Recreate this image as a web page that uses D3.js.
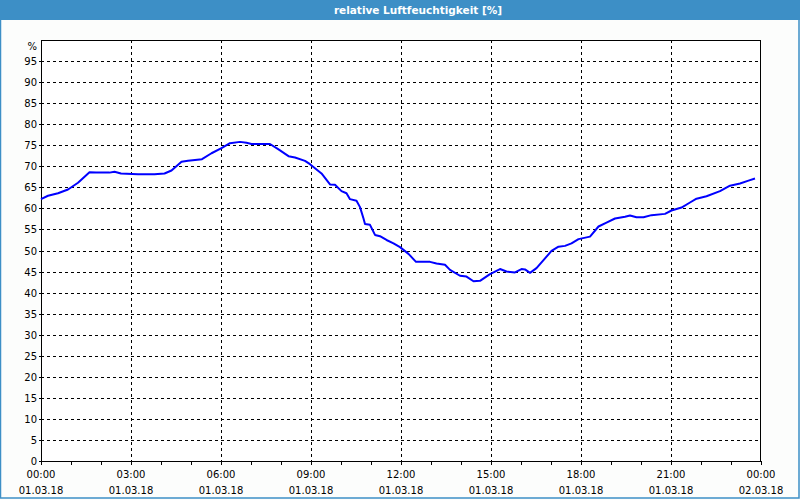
<!DOCTYPE html>
<html>
<head>
<meta charset="utf-8">
<script src="https://cdn.jsdelivr.net/npm/d3@7"></script>
<style>
  html, body { margin: 0; padding: 0; background: #fcfdfc; }
  svg { display: block; }
</style>
</head>
<body>
<svg id="chart" width="800" height="500"></svg>
<script>
// minutes since 01.03.18 00:00 and relative humidity [%]
const minutes = [0, 14, 34, 54, 74, 97, 110, 137, 147, 160, 194, 227, 247, 261, 281, 294,
  322, 341, 361, 378, 398, 411, 421, 458, 475, 495, 508, 528, 538, 561, 578, 588,
  601, 611, 618, 631, 638, 645, 648, 658, 668, 678, 691, 705, 718, 735, 750, 778,
  791, 808, 818, 838, 851, 865, 878, 898, 918, 931, 948, 961, 968, 978, 991, 1005,
  1021, 1035, 1048, 1061, 1075, 1098, 1115, 1131, 1148, 1168, 1178, 1191, 1205, 1221,
  1248, 1261, 1281, 1298, 1311, 1331, 1358, 1378, 1398, 1415, 1428];
const humidity = [62.2, 63.0, 63.6, 64.5, 66.1, 68.6, 68.5, 68.5, 68.7, 68.3, 68.1, 68.1, 68.3, 69.0, 71.1, 71.3,
  71.7, 73.1, 74.3, 75.5, 75.8, 75.6, 75.3, 75.3, 74.0, 72.4, 72.1, 71.3, 70.5, 68.3, 65.7, 65.6,
  64.1, 63.6, 62.2, 61.8, 60.3, 57.6, 56.3, 56.1, 53.7, 53.4, 52.5, 51.7, 50.8, 49.2, 47.3, 47.3,
  46.9, 46.6, 45.4, 44.0, 43.8, 42.7, 42.8, 44.4, 45.6, 45.0, 44.8, 45.6, 45.5, 44.7, 45.8, 47.7,
  49.9, 50.9, 51.1, 51.7, 52.7, 53.3, 55.7, 56.6, 57.6, 58.0, 58.3, 57.9, 57.9, 58.4,
  58.7, 59.5, 60.2, 61.4, 62.3, 62.9, 64.1, 65.4, 65.9, 66.6, 67.1];

const title = 'relative Luftfeuchtigkeit [%]';
const yTicks = d3.range(0, 100, 5);          // 0 … 95
const xTickHours = d3.range(0, 25, 3);       // labelled every 3 h
const start = new Date(2018, 2, 1, 0, 0);
const end = new Date(2018, 2, 2, 0, 0);

const data = minutes.map((m, i) => ({ t: d3.timeMinute.offset(start, m), v: humidity[i] }));

const W = 800, H = 500;
const m = { l: 41, r: 761, t: 40, b: 461 };
const font = "'DejaVu Sans', Verdana, sans-serif";
const svg = d3.select('#chart');

// window frame + title bar
svg.append('rect').attr('x', 0.5).attr('y', 0.5).attr('width', W - 1.5).attr('height', H - 2.5)
  .attr('fill', '#fcfdfc').attr('stroke', '#3d8fc6').attr('stroke-width', 1.5);
svg.append('rect').attr('x', 0).attr('y', 0).attr('width', W).attr('height', 20).attr('fill', '#3d8fc6');
svg.append('text').attr('x', 418).attr('y', 14).attr('text-anchor', 'middle')
  .attr('font-family', font).attr('font-size', 10.5).attr('font-weight', 'bold')
  .attr('fill', '#fff').text(title);

const x = d3.scaleTime().domain([start, end]).range([m.l, m.r]);
const y = d3.scaleLinear().domain([0, 100]).range([m.b, m.t]);

// plot area
svg.append('rect').attr('x', m.l).attr('y', m.t).attr('width', m.r - m.l).attr('height', m.b - m.t)
  .attr('fill', '#fff');

const g = svg.append('g').attr('shape-rendering', 'crispEdges');

// horizontal grid
yTicks.filter(v => v > 0).forEach(v => {
  g.append('line').attr('x1', m.l).attr('x2', m.r).attr('y1', Math.round(y(v)) + .5).attr('y2', Math.round(y(v)) + .5)
    .attr('stroke', '#000').attr('stroke-dasharray', '3,3');
});
// vertical grid
xTickHours.filter(h => h > 0 && h < 24).forEach(h => {
  const px = Math.round(x(d3.timeHour.offset(start, h))) + .5;
  g.append('line').attr('x1', px).attr('x2', px).attr('y1', m.t).attr('y2', m.b)
    .attr('stroke', '#000').attr('stroke-dasharray', '3,3');
});

// axis box
g.append('rect').attr('x', m.l + .5).attr('y', m.t + .5).attr('width', m.r - m.l - 1).attr('height', m.b - m.t)
  .attr('fill', 'none').attr('stroke', '#000');

// hourly ticks under the x axis
x.ticks(d3.timeHour.every(1)).forEach(d => {
  const px = Math.round(x(d)) + .5;
  g.append('line').attr('x1', px).attr('x2', px).attr('y1', m.b).attr('y2', m.b + 4).attr('stroke', '#000');
});
// small ticks left of the y axis
yTicks.forEach(v => {
  const py = Math.round(y(v)) + .5;
  g.append('line').attr('x1', m.l - 2).attr('x2', m.l).attr('y1', py).attr('y2', py).attr('stroke', '#000');
});

// y labels
yTicks.forEach(v => {
  svg.append('text').attr('x', 37).attr('y', y(v) + 4).attr('text-anchor', 'end')
    .attr('font-family', font).attr('font-size', 10).attr('fill', '#000').text(v);
});
svg.append('text').attr('x', 37).attr('y', 50).attr('text-anchor', 'end')
  .attr('font-family', font).attr('font-size', 10).attr('fill', '#000').text('%');

// x labels
const fTime = d3.timeFormat('%H:%M'), fDate = d3.timeFormat('%d.%m.%y');
xTickHours.forEach(h => {
  const d = d3.timeHour.offset(start, h);
  svg.append('text').attr('x', x(d)).attr('y', 478).attr('text-anchor', 'middle')
    .attr('font-family', font).attr('font-size', 10).attr('fill', '#000').text(fTime(d));
  svg.append('text').attr('x', x(d)).attr('y', 494).attr('text-anchor', 'middle')
    .attr('font-family', font).attr('font-size', 10).attr('fill', '#000').text(fDate(d));
});

// humidity line
const line = d3.line().x(d => x(d.t)).y(d => y(d.v));
svg.append('path').datum(data).attr('d', line).attr('fill', 'none')
  .attr('stroke', '#0000ff').attr('stroke-width', 2).attr('stroke-linejoin', 'round');
</script>
</body>
</html>
